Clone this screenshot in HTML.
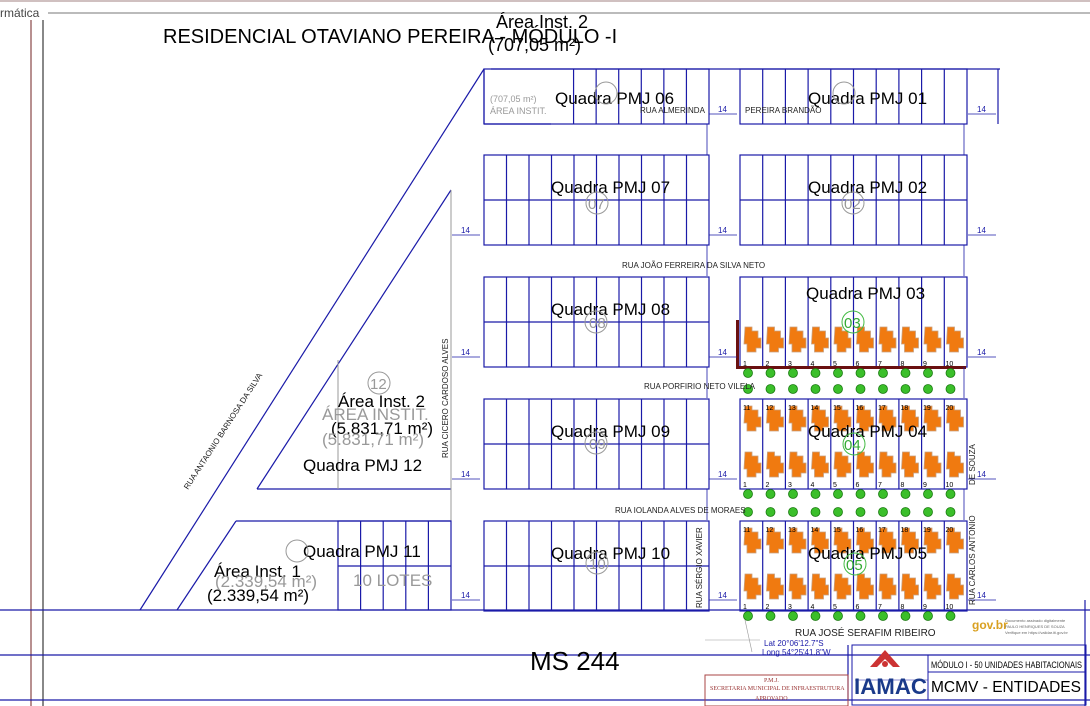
<!DOCTYPE html>
<html><head><meta charset="utf-8"><style>
html,body{margin:0;padding:0;background:#fff;width:1090px;height:706px;overflow:hidden}
svg{display:block;font-family:"Liberation Sans",sans-serif}
</style></head><body>
<svg id="s" width="1090" height="706" viewBox="0 0 1090 706" xmlns="http://www.w3.org/2000/svg">
<rect width="1090" height="706" fill="#fff"/>
<line x1="0" y1="1" x2="1090" y2="1" stroke="#a08080" stroke-width="1"/>
<line x1="48" y1="13" x2="1090" y2="13" stroke="#777" stroke-width="1"/>
<line x1="31" y1="20" x2="31" y2="706" stroke="#b89090" stroke-width="2"/>
<line x1="43" y1="20" x2="43" y2="706" stroke="#888" stroke-width="2"/>
<text x="0" y="17" font-size="12" fill="#444">rmática</text>
<g id="g" stroke="#1a1aa8" stroke-width="1.2" fill="none"></g>
<g font-size="17" fill="#000">
<text x="163" y="43" font-size="20">RESIDENCIAL  OTAVIANO PEREIRA - MÓDULO -I</text>
<text x="496" y="28" font-size="18">Área Inst. 2</text>
<text x="488" y="51" font-size="18">(707,05 m²)</text>
<text x="555" y="104">Quadra PMJ 06</text>
<text x="808" y="104">Quadra PMJ 01</text>
<text x="551" y="193">Quadra PMJ 07</text>
<text x="808" y="193">Quadra PMJ 02</text>
<text x="551" y="315">Quadra PMJ 08</text>
<text x="806" y="299">Quadra PMJ 03</text>
<text x="551" y="437">Quadra PMJ 09</text>
<text x="808" y="437">Quadra PMJ 04</text>
<text x="551" y="559">Quadra PMJ 10</text>
<text x="808" y="559">Quadra PMJ 05</text>
<text x="303" y="557">Quadra PMJ 11</text>
<text x="303" y="471">Quadra PMJ 12</text>
<text x="338" y="407">Área Inst. 2</text>
<text x="331" y="434">(5.831,71 m²)</text>
<text x="214" y="577">Área Inst. 1</text>
<text x="207" y="601">(2.339,54 m²)</text>
<text x="530" y="670" font-size="26">MS 244</text>
</g>
<g font-size="17" fill="#999">
<text x="322" y="420">ÁREA INSTIT.</text>
<text x="322" y="445">(5.831,71 m²)</text>
<text x="215" y="587">(2.339,54 m²)</text>
<text x="353" y="586">10 LOTES</text>
<text x="490" y="102" font-size="9">(707,05 m²)</text>
<text x="490" y="114" font-size="9">ÁREA INSTIT.</text>
</g>
<g font-size="8" fill="#222">
<text x="640" y="113">RUA ALMERINDA</text>
<text x="745" y="113">PEREIRA BRANDÃO</text>
<text x="622" y="268">RUA JOÃO FERREIRA DA SILVA NETO</text>
<text x="644" y="389">RUA PORFIRIO NETO VILELA</text>
<text x="615" y="513">RUA IOLANDA ALVES DE MORAES</text>
<text x="795" y="636" font-size="10">RUA JOSÉ SERAFIM RIBEIRO</text>
<text transform="translate(448,458) rotate(-90)">RUA CICERO CARDOSO ALVES</text>
<text transform="translate(188,490) rotate(-57)">RUA ANTAONIO BARNOSA DA SILVA</text>
<text transform="translate(702,608) rotate(-90)">RUA SÉRGIO XAVIER</text>
<text transform="translate(975,485) rotate(-90)">DE SOUZA</text>
<text transform="translate(975,605) rotate(-90)">RUA CARLOS ANTONIO</text>
<text x="764" y="646" fill="#1a1aa8">Lat 20°06'12.7"S</text>
<text x="762" y="655" fill="#1a1aa8">Long 54°25'41.8"W</text>
</g>
<g fill="none" stroke="#999" stroke-width="1">
<circle cx="606" cy="93" r="11"/><circle cx="844" cy="93" r="11"/>
<circle cx="597" cy="203" r="11"/><circle cx="853" cy="203" r="11"/>
<circle cx="596" cy="322" r="11"/><circle cx="596" cy="443" r="11"/>
<circle cx="597" cy="563" r="11"/><circle cx="379" cy="383" r="11"/>
<circle cx="297" cy="551" r="11"/>
<circle cx="853" cy="322" r="11" stroke="#4b4"/><circle cx="854" cy="444" r="11" stroke="#4b4"/><circle cx="855" cy="564" r="11" stroke="#4b4"/>
</g>
<g font-size="15" fill="#999"><text x="370" y="389">12</text><text x="588" y="209">07</text><text x="844" y="209">02</text><text x="589" y="328">08</text><text x="589" y="449">09</text><text x="589" y="569">10</text></g>
<g font-size="15" fill="#3a3"><text x="844" y="328">03</text><text x="844" y="450">04</text><text x="846" y="570">05</text></g>
<!-- title block -->
<g stroke="#1a1aa8" stroke-width="1" fill="none">
<rect x="852" y="645" width="234" height="60"/>
<line x1="928" y1="672" x2="1086" y2="672"/><line x1="928" y1="655" x2="928" y2="700"/>
<rect x="705" y="675" width="143" height="31" stroke="#a44"/>
</g>
<g>
<path d="M870 667 L885 650 L900 667 L893 667 L885 659 L877 667Z" fill="#c33"/>
<circle cx="885" cy="664" r="3" fill="#c33"/>
<text x="854" y="694" font-size="22" font-weight="bold" fill="#1a3a8a" textLength="73" lengthAdjust="spacingAndGlyphs">IAMAC</text>
<text x="931" y="668" font-size="9" fill="#000" textLength="151" lengthAdjust="spacingAndGlyphs">MÓDULO I - 50 UNIDADES HABITACIONAIS</text>
<text x="931" y="692" font-size="16" fill="#000" textLength="150" lengthAdjust="spacingAndGlyphs">MCMV - ENTIDADES</text>
<text x="764" y="682" font-size="6" fill="#933" font-family="Liberation Serif">P.M.J.</text>
<text x="710" y="690" font-size="6" fill="#933" font-family="Liberation Serif">SECRETARIA MUNICIPAL DE INFRAESTRUTURA</text>
<text x="755" y="700" font-size="6" fill="#933" font-family="Liberation Serif">APROVADO</text>
<text x="972" y="629" font-size="12" font-weight="bold" fill="#d9a020">gov.br</text>
<text x="1005" y="622" font-size="4" fill="#666">Documento assinado digitalmente</text>
<text x="1005" y="628" font-size="4" fill="#666">PAULO HENRIQUES DE SOUZA</text>
<text x="1005" y="634" font-size="4" fill="#666">Verifique em https://validar.iti.gov.br</text>
</g>
</svg>
<script>
var g=document.getElementById('g'),NS='http://www.w3.org/2000/svg',S=document.getElementById('s');
function el(t,a,p){var e=document.createElementNS(NS,t);for(var k in a)e.setAttribute(k,a[k]);(p||g).appendChild(e);return e}
function L(x1,y1,x2,y2,c,w){el('line',{x1:x1,y1:y1,x2:x2,y2:y2,stroke:c||'#1a1aa8','stroke-width':w||1.2})}
function block(x,y,w,h,mid,lots,startx){el('rect',{x:x,y:y,width:w,height:h});var lx=startx||x;var lw=(x+w-lx)/lots;for(var i=1;i<lots;i++)L(lx+i*lw,y,lx+i*lw,y+h);if(mid)L(x,y+h/2,x+w,y+h/2);}
el('path',{d:'M491 69 L1000 69'});L(998,69,998,124);
block(484,69,225,55,false,7,551);L(484,69,484,124);L(484,124,551,124);
block(740,69,227,55,false,10);
var rows=[155,277,399,521];
rows.forEach(function(y,i){block(484,y,225,90,true,10);block(740,y,227,90,i==0,10);});
L(484,69,140,610);L(451,190,257,489);L(257,489,451,489);L(236,521,177,610);L(236,521,451,521);
L(451,190,451,610,'#999',1);L(338,360,338,489,'#999',1);
el('rect',{x:338,y:521,width:113,height:89});for(var i=1;i<5;i++)L(338+i*22.6,521,338+i*22.6,610);L(338,566,451,566);
L(0,610,1090,610);L(0,655,1090,655);L(0,700,1090,700);L(1085,600,1085,706);
L(848,645,848,700);
function houses(y0){for(var i=0;i<10;i++){var x=741+i*22.5;var gg=el('g',{transform:'translate('+x+','+y0+')'});
el('path',{d:'M4 5 L11 5 L11 9 L17 9 L17 16 L20 16 L20 26 L15 26 L15 30 L6 30 L6 22 L3 22 Z',fill:'#f07a10',stroke:'#c8a080','stroke-width':0.8},gg);}}
houses(322);houses(401);houses(447);houses(523);houses(569);
function nums(y,start){for(var i=0;i<10;i++){var t=el('text',{x:743+i*22.5,y:y,'font-size':7,fill:'#000',stroke:'none'});t.textContent=start+i;}}
nums(366,1);nums(410,11);nums(487,1);nums(532,11);nums(609,1);
el('rect',{x:736,y:320,width:3,height:48,fill:'#6a1010',stroke:'none'});el('rect',{x:736,y:366,width:230,height:3,fill:'#6a1010',stroke:'none'});
[373,389,494,512,616].forEach(function(y){for(var i=0;i<10;i++){el('circle',{cx:748+i*22.5,cy:y,r:4.5,fill:'#3bbf2a',stroke:'#1a7a10','stroke-width':0.8});}});
function dim(x,y){L(x,y,x+28,y,'#1a1aa8',0.8);var t=el('text',{x:x+9,y:y-2,'font-size':8,fill:'#1a1aa8',stroke:'none'});t.textContent='14';}
[124,245,367,489,610].forEach(function(y){dim(709,y-10);dim(968,y-10);});
[367,489,610].forEach(function(y){dim(452,y-10);});dim(452,245-10);
[124,245,367,489].forEach(function(y){L(707,y,707,y+31,'#1a1aa8',0.8);L(964,y,964,y+31,'#1a1aa8',0.8);});
L(855,680,928,680,'#1a1aa8',0.6);
L(705,640,760,640,'#999',0.6);L(745,620,752,652,'#999',0.6);
</script>
</body></html>
